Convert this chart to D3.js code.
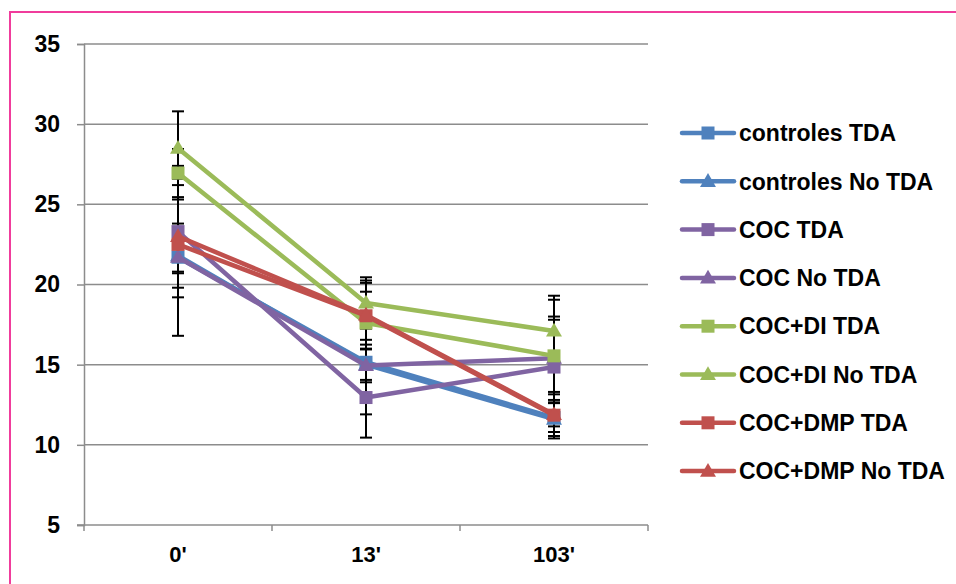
<!DOCTYPE html>
<html><head><meta charset="utf-8">
<script src="https://cdn.jsdelivr.net/npm/d3@7"></script>
<style>body{margin:0;background:#fff}svg{display:block}</style>
</head><body>
<script>
const categories = ["0'", "13'", "103'"];
const seriesNames = ["controles TDA","controles No TDA","COC TDA","COC No TDA","COC+DI TDA","COC+DI No TDA","COC+DMP TDA","COC+DMP No TDA"];
const seriesValues = [
  [21.7, 15.15, 11.7],
  [21.8, 15.0, 11.6],
  [23.3, 12.95, 14.85],
  [21.7, 14.95, 15.4],
  [26.95, 17.6, 15.55],
  [28.5, 18.85, 17.1],
  [22.5, 18.05, 11.85],
  [23.0, 18.1, 11.9]
];
const seriesErrors = [
  [4.9, 1.1, 0.9],
  [2.0, 3.1, 1.2],
  [4.1, 2.5, 3.15],
  [0.9, 1.05, 3.65],
  [1.5, 2.5, 2.25],
  [2.3, 1.6, 2.2],
  [0.8, 1.5, 1.3],
  [2.3, 2.15, 0.75]
];
const seriesColors = ["#4F81BD","#4F81BD","#8064A2","#8064A2","#9BBB59","#9BBB59","#C0504D","#C0504D"];
const seriesMarkers = ["square","triangle","square","triangle","square","triangle","square","triangle"];
const yTicks = [5,10,15,20,25,30,35];

const W=956,H=584;
const svg=d3.select("body").append("svg").attr("width",W).attr("height",H);
svg.append("rect").attr("x",0).attr("y",0).attr("width",W).attr("height",H).attr("fill","#fff");
// pink frame
svg.append("rect").attr("x",10).attr("y",12).attr("width",W+20).attr("height",H+20)
  .attr("fill","none").attr("stroke","#F03C9C").attr("stroke-width",2);

const x0=84,x1=648,yTop=44,yBot=525;
const y=d3.scaleLinear().domain([5,35]).range([yBot,yTop]);
const xb=d3.scaleBand().domain(categories).range([x0,x1]);
const xc=c=>xb(c)+xb.bandwidth()/2;
const font="'Liberation Sans', Arial, sans-serif";

// gridlines
const gridG=svg.append("g");
yTicks.forEach(t=>{
  if(t===5) return;
  gridG.append("line").attr("x1",x0).attr("x2",x1).attr("y1",y(t)).attr("y2",y(t))
    .attr("stroke","#8C8C8C").attr("stroke-width",1.5);
});
// y axis
const yAxis=d3.axisLeft(y).tickValues(yTicks).tickSize(7).tickPadding(17).tickFormat(d3.format("d"));
const ya=svg.append("g").attr("transform",`translate(${x0},0)`).call(yAxis);
ya.select(".domain").attr("stroke","#8C8C8C").attr("stroke-width",1.5);
ya.selectAll(".tick line").attr("stroke","#8C8C8C").attr("stroke-width",1.5);
ya.selectAll("text").attr("font-family",font).attr("font-weight","bold").attr("font-size",23).attr("fill","#000");
// x axis
const xAxis=d3.axisBottom(xb).tickSize(0).tickPadding(21);
const xa=svg.append("g").attr("transform",`translate(0,${yBot})`).call(xAxis);
xa.select(".domain").attr("stroke","#8C8C8C").attr("stroke-width",1.5).attr("d",`M${x0-7},0H${x1}`);
xa.selectAll("text").attr("font-family",font).attr("font-weight","bold").attr("font-size",22).attr("fill","#000");
[x0, ...categories.map(c=>xb(c)+xb.bandwidth())].forEach(px=>{
  xa.append("line").attr("x1",px).attr("x2",px).attr("y1",0).attr("y2",6).attr("stroke","#8C8C8C").attr("stroke-width",1.5);
});

// error bars
const eg=svg.append("g");
seriesValues.forEach((vals,si)=>{
  vals.forEach((v,ci)=>{
    const e=seriesErrors[si][ci], cx=xc(categories[ci]);
    eg.append("line").attr("x1",cx).attr("x2",cx).attr("y1",y(v+e)).attr("y2",y(v-e)).attr("stroke","#000").attr("stroke-width",2);
    [v+e,v-e].forEach(t=>eg.append("line").attr("x1",cx-6).attr("x2",cx+6).attr("y1",y(t)).attr("y2",y(t)).attr("stroke","#000").attr("stroke-width",2));
  });
});

// lines + markers
const line=d3.line().x((d,i)=>xc(categories[i])).y(d=>y(d));
const tri=d3.symbol().type(d3.symbolTriangle).size(110);
function drawMarker(g,type,cx,cy,color){
  if(type==="square"){
    g.append("rect").attr("x",cx-6.5).attr("y",cy-6.5).attr("width",13).attr("height",13).attr("fill",color);
  } else {
    g.append("path").attr("d",tri()).attr("transform",`translate(${cx},${cy+1})`).attr("fill",color);
  }
}
seriesValues.forEach((vals,si)=>{
  const g=svg.append("g");
  g.append("path").datum(vals).attr("d",line).attr("fill","none").attr("stroke",seriesColors[si]).attr("stroke-width",4.5).attr("stroke-linejoin","round");
  vals.forEach((v,ci)=>drawMarker(g,seriesMarkers[si],xc(categories[ci]),y(v),seriesColors[si]));
});

// legend
const lg=svg.append("g");
seriesNames.forEach((n,i)=>{
  const ly=133+i*48.3;
  lg.append("line").attr("x1",682).attr("x2",734).attr("y1",ly).attr("y2",ly).attr("stroke",seriesColors[i]).attr("stroke-width",4.5).attr("stroke-linecap","round");
  drawMarker(lg,seriesMarkers[i],708,ly,seriesColors[i]);
  lg.append("text").attr("x",739).attr("y",ly).attr("dy","0.36em").attr("font-family",font).attr("font-weight","bold").attr("font-size",23).attr("fill","#000").text(n);
});
</script>
</body></html>
